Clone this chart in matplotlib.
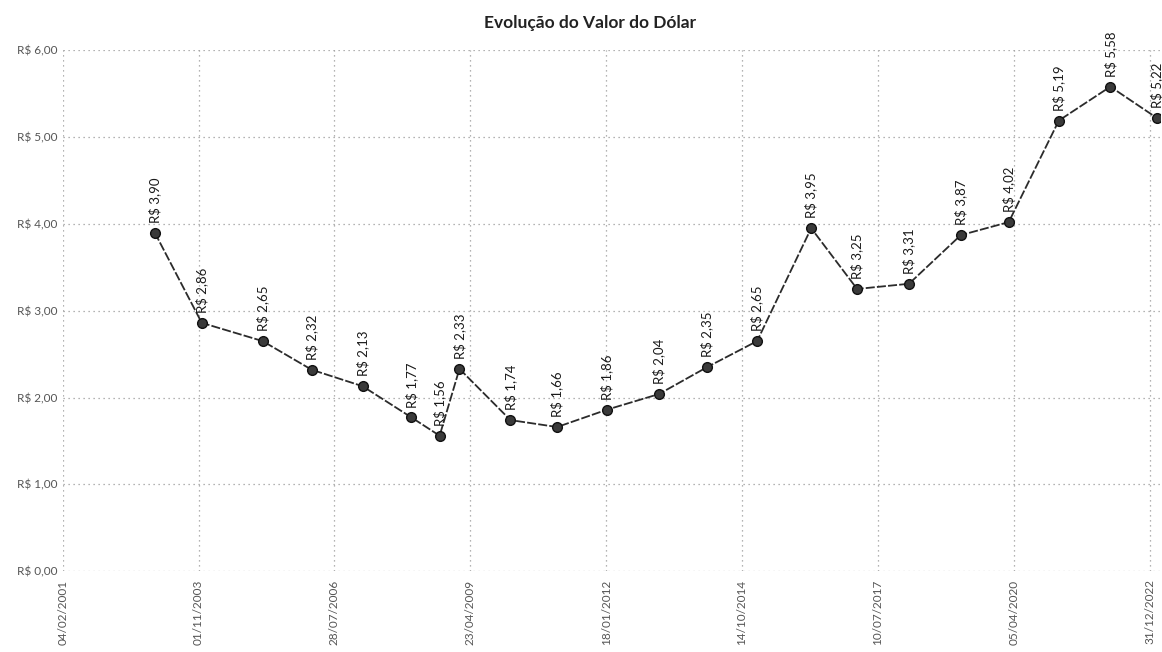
import pandas as pd
import matplotlib.pyplot as plt
import matplotlib.dates as mdates

## Data
datas = ['2002-12-13', '2003-11-24', '2005-02-14', '2006-02-10', '2007-02-20',
         '2008-02-15', '2008-09-09', '2009-02-02', '2010-02-12', '2011-01-22',
         '2012-01-24', '2013-02-10', '2014-01-30', '2015-02-02', '2016-03-06',
         '2017-02-07', '2018-02-24', '2019-03-12', '2020-02-28', '2021-03-03',
         '2022-03-17', '2023-02-22']
valores = [3.90, 2.86, 2.65, 2.32, 2.13, 1.77, 1.56, 2.33, 1.74, 1.66, 1.86,
           2.04, 2.35, 2.65, 3.95, 3.25, 3.31, 3.87, 4.02, 5.19, 5.58, 5.22]
y_ticks = [0, 1, 2, 3, 4, 5, 6]
x_ticks = pd.date_range('2001-02-04', periods=9, freq='1000D')

datas = pd.to_datetime(datas)

plt.rcParams['font.family'] = ['Lato', 'DejaVu Sans']

fig = plt.figure(figsize=(11.62, 6.52), dpi=100)
ax = fig.add_axes([0.054, 0.124, 0.944, 0.799])

ax.plot(datas, valores, color='#2b2b2b', lw=1.3, linestyle=(0, (5, 1.2)),
        marker='o', markersize=7, markerfacecolor='#3a3a3a',
        markeredgecolor='#111111', zorder=3)

## rotated data labels above each point
for d, v in zip(datas, valores):
    ax.annotate('R$ ' + f'{v:.2f}'.replace('.', ','), (d, v),
                xytext=(0, 7), textcoords='offset points',
                rotation=90, ha='center', va='bottom',
                fontsize=9.5, color='#1a1a1a')

ax.set_ylim(0, 6)
ax.set_yticks(y_ticks)
ax.set_yticklabels(['R$ ' + f'{t:.2f}'.replace('.', ',') for t in y_ticks])
ax.set_xlim(pd.Timestamp('2001-02-04'), pd.Timestamp('2023-03-15'))
ax.set_xticks(x_ticks)
ax.xaxis.set_major_formatter(mdates.DateFormatter('%d/%m/%Y'))
plt.setp(ax.get_xticklabels(), rotation=90)

ax.tick_params(axis='both', length=0, labelsize=8.5, labelcolor='#555555')
ax.tick_params(axis='y', pad=4)
ax.tick_params(axis='x', pad=6)
ax.grid(True, linestyle=(0, (1, 3)), color='#9a9a9a', lw=0.9)
for s in ax.spines.values():
    s.set_visible(False)

fig.text(0.508, 0.965, 'Evolução do Valor do Dólar', ha='center', va='center',
         fontsize=12.5, fontweight='bold', color='#222222')

plt.savefig('out.png')
plt.close()
